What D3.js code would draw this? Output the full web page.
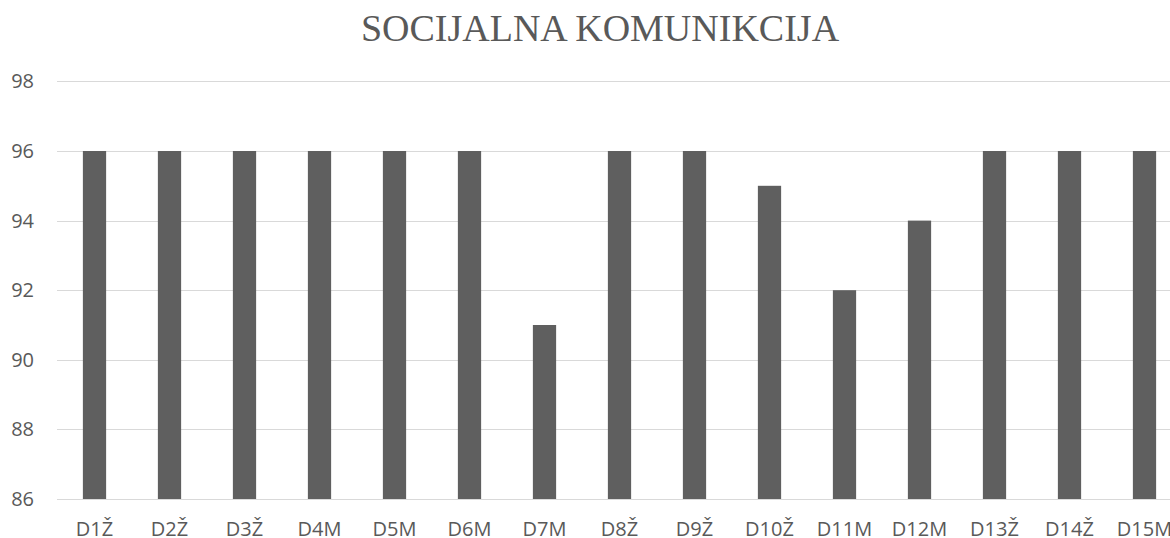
<!DOCTYPE html>
<html>
<head>
<meta charset="utf-8">
<script src="https://cdn.jsdelivr.net/npm/d3@7"></script>
<style>
  body { margin: 0; background: #fff; overflow: hidden; }
  svg { display: block; }
</style>
</head>
<body>
<svg id="chart" width="1170" height="538"></svg>
<script>
var categories = ['D1Ž', 'D2Ž', 'D3Ž', 'D4M', 'D5M', 'D6M', 'D7M', 'D8Ž', 'D9Ž', 'D10Ž', 'D11M', 'D12M', 'D13Ž', 'D14Ž', 'D15M']
var values = [96, 96, 96, 96, 96, 96, 91, 96, 96, 95, 92, 94, 96, 96, 96]
var yTicks = [86, 88, 90, 92, 94, 96, 98]
var title = 'SOCIJALNA KOMUNIKCIJA'

var svg = d3.select('#chart')
var textColor = '#595959'

// plot runs past the right edge, like the reference
var x = d3.scaleBand().domain(categories).range([57, 1182]).paddingInner(0.69).paddingOuter(0.345)
var y = d3.scaleLinear().domain([86, 98]).range([499, 81.4])

// gridlines
svg.append('g').selectAll('line').data(yTicks).join('line')
  .attr('x1', 57).attr('x2', 1182)
  .attr('y1', d => Math.round(y(d)) + 0.5).attr('y2', d => Math.round(y(d)) + 0.5)
  .attr('stroke', '#d9d9d9').attr('stroke-width', 1)

// bars
svg.append('g').selectAll('rect').data(values).join('rect')
  .attr('x', (d, i) => x(categories[i]))
  .attr('width', x.bandwidth())
  .attr('y', d => y(d))
  .attr('height', d => y(86) - y(d))
  .attr('fill', '#5f5f5f')

// y labels
svg.append('g').selectAll('text').data(yTicks).join('text')
  .attr('x', 34).attr('y', d => y(d))
  .attr('dy', '0.35em')
  .attr('text-anchor', 'end')
  .attr('fill', textColor)
  .style('font', '20px "Open Sans", sans-serif')
  .text(d => d)

// x labels
svg.append('g').selectAll('text').data(categories).join('text')
  .attr('x', d => x(d) + x.bandwidth() / 2).attr('y', 536)
  .attr('text-anchor', 'middle')
  .attr('fill', textColor)
  .style('font', '20px "Open Sans", sans-serif')
  .text(d => d)

svg.append('text')
  .attr('x', 600).attr('y', 41)
  .attr('text-anchor', 'middle')
  .attr('fill', textColor)
  .style('font', '38px "Liberation Serif", serif')
  .text(title)
</script>
</body>
</html>
